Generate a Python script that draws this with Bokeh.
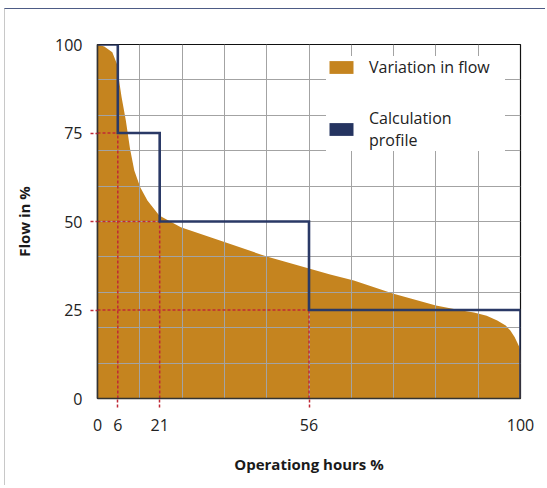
import numpy as np
from bokeh.plotting import figure
from bokeh.models import (Range1d, FixedTicker, Legend, LegendItem, ColumnDataSource)
from bokeh.embed import file_html
from bokeh.resources import INLINE

# ---- data ----
flow_hours = [0, 1.6, 3.5, 4.6, 5.1, 5.7, 6.7, 7.7, 8.7, 10.1, 11.8, 14.6, 19.7, 30, 40,
              50, 55, 60.6, 70, 80, 85.8, 89, 92, 94.5, 96.5, 97.6, 98.6, 99.2, 99.7, 100]
flow_pct = [100, 99.4, 97.8, 94.5, 89.8, 85.1, 78.5, 70.5, 64.4, 59.7, 55.9, 51.7, 48.4, 44.2, 40.1,
            36.7, 35, 33.3, 29.6, 26.3, 24.9, 24.3, 23.4, 22, 20.6, 19.2, 17.4, 15.9, 14.6, 13.5]

profile_edges = [0, 4.8, 14.7, 50, 100]      # drawn positions of the step breaks
profile_levels = [100, 75, 50, 25]

x_tick_pos = [0, 4.8, 14.7, 50, 100]
x_tick_labels = ["0", "6", "21", "56", "100"]
y_ticks = [0, 25, 50, 75, 100]
grid_lines = [10, 20, 30, 40, 50, 60, 70, 80, 90]

ORANGE = "#C5841F"
NAVY = "#2A3966"
NAVY_LEG = "#253460"
RED = "#C02836"
FONT = "Open Sans"

p = figure(width=541, height=477, output_backend="svg", toolbar_location=None,
           x_range=Range1d(0, 100), y_range=Range1d(0, 100),
           min_border_left=92, min_border_right=26, min_border_top=35, min_border_bottom=88,
           background_fill_color="white", border_fill_color="white",
           styles={"position": "absolute", "left": "4px", "top": "8px",
                   "border-top": "1.5px solid #4d5b85", "border-left": "1px solid #c8c8c8"})

p.outline_line_color = "#111111"
p.outline_line_width = 1.2

# grid
for g in (p.xgrid, p.ygrid):
    g.ticker = FixedTicker(ticks=grid_lines)
    g.grid_line_color = "#a3a3a3"
    g.grid_line_width = 1

# area (below grid)
p.varea(x=flow_hours, y1=[0] * len(flow_hours), y2=flow_pct,
        fill_color=ORANGE, level="image")

# dashed guide lines from profile corners
seg_x0, seg_y0, seg_x1, seg_y1 = [], [], [], []
for i in range(1, len(profile_edges) - 1):
    xb = profile_edges[i]
    yb = profile_levels[i]
    seg_x0 += [0, xb]
    seg_y0 += [yb, 0]
    seg_x1 += [xb, xb]
    seg_y1 += [yb, yb]
p.segment(x0=seg_x0, y0=seg_y0, x1=seg_x1, y1=seg_y1,
          line_color=RED, line_width=1.5, line_dash="3 2")

# step profile
sx, sy = [], []
for i, lvl in enumerate(profile_levels):
    sx += [profile_edges[i], profile_edges[i + 1]]
    sy += [lvl, lvl]
sx.append(profile_edges[-1])
sy.append(0)
p.line(sx, sy, line_color=NAVY, line_width=2.6, line_join="miter")

# axes
xa = p.xaxis[0]
xa.ticker = FixedTicker(ticks=x_tick_pos, minor_ticks=x_tick_pos[1:-1])
xa.major_label_overrides = {k: v for k, v in zip(x_tick_pos, x_tick_labels)}
ya = p.yaxis[0]
ya.ticker = FixedTicker(ticks=y_ticks, minor_ticks=y_ticks[1:-1])

for ax in (xa, ya):
    ax.axis_line_color = "#333333"
    ax.axis_line_width = 1.6
    ax.major_tick_line_color = None
    ax.minor_tick_line_color = RED
    ax.minor_tick_line_width = 1.5
    ax.minor_tick_line_dash = "3 2"
    ax.minor_tick_in = 0
    ax.major_label_text_font = FONT
    ax.major_label_text_font_size = "16px"
    ax.major_label_text_color = "#222222"
    ax.axis_label_text_font = FONT
    ax.axis_label_text_font_size = "15px"
    ax.axis_label_text_font_style = "bold"
    ax.axis_label_text_color = "#1a1a1a"

xa.major_tick_out = 9
xa.minor_tick_out = 9
xa.major_label_standoff = 11
xa.axis_label = "Operationg hours %"
xa.axis_label_standoff = 20

ya.major_tick_out = 7
ya.minor_tick_out = 7
ya.major_label_standoff = 8
ya.axis_label = "Flow in %"
ya.axis_label_standoff = 18

# legend proxies (one NaN row so nothing shows in the plot)
proxy = dict(left=[np.nan], right=[np.nan], top=[np.nan], bottom=[np.nan])
r_o = p.quad(source=ColumnDataSource(proxy), left="left", right="right", top="top", bottom="bottom",
             fill_color=ORANGE, line_color=None)
r_n = p.quad(source=ColumnDataSource(proxy), left="left", right="right", top="top", bottom="bottom",
             fill_color=NAVY_LEG, line_color=None)
legend = Legend(items=[LegendItem(label="Variation in flow", renderers=[r_o]),
                       LegendItem(label="Calculation\nprofile", renderers=[r_n])],
                location=(229, 247), orientation="vertical",
                glyph_width=30, glyph_height=16, label_standoff=13,
                label_text_font=FONT, label_text_font_size="16px", label_text_color="#222222",
                label_text_line_height=1.1,
                padding=8, spacing=29, label_height=20, label_width=136,
                border_line_color=None, background_fill_color="white", background_fill_alpha=1.0)
p.add_layout(legend, "center")

open("out.html", "w").write(file_html(p, INLINE))
